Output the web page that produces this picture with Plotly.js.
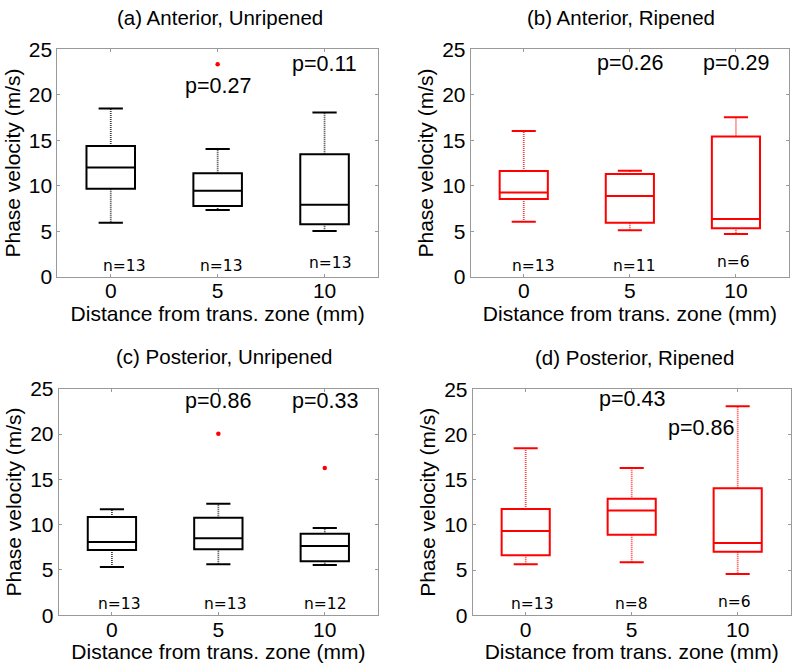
<!DOCTYPE html>
<html>
<head>
<meta charset="utf-8">
<script src="https://cdn.plot.ly/plotly-3.0.1.min.js"></script>
<style>html,body{margin:0;padding:0;background:#fff;}#chart{width:800px;height:672px;}</style>
</head>
<body>
<div id="chart"></div>
<script>
// ---- data ----
const positions = [0, 5, 10];
const xTickLabels = ['0', '5', '10'];
const panelTitles = ['(a) Anterior, Unripened', '(b) Anterior, Ripened', '(c) Posterior, Unripened', '(d) Posterior, Ripened'];
const panelColors = ['#000000', '#ff0000', '#000000', '#ff0000'];

// (a) Anterior, Unripened
const aQ1 = [9.68, 7.77, 5.76];
const aMed = [12.0, 9.46, 7.92];
const aQ3 = [14.37, 11.36, 13.45];
const aLo = [5.94, 7.33, 5.02];
const aHi = [18.5, 14.04, 18.04];
const aOutX = [5];
const aOutY = [23.35];
const aN = ['n=13', 'n=13', 'n=13'];
const aP = ['p=0.27', 'p=0.11'];

// (b) Anterior, Ripened
const bQ1 = [8.54, 5.94, 5.32];
const bMed = [9.27, 8.87, 6.34];
const bQ3 = [11.62, 11.29, 15.40];
const bLo = [6.05, 5.10, 4.69];
const bHi = [16.02, 11.66, 17.52];
const bOutX = [];
const bOutY = [];
const bN = ['n=13', 'n=11', 'n=6'];
const bP = ['p=0.26', 'p=0.29'];

// (c) Posterior, Unripened
const cQ1 = [7.21, 7.28, 5.96];
const cMed = [8.09, 8.49, 7.65];
const cQ3 = [10.85, 10.77, 9.01];
const cLo = [5.33, 5.63, 5.55];
const cHi = [11.69, 12.32, 9.63];
const cOutX = [5, 10];
const cOutY = [20.04, 16.25];
const cN = ['n=13', 'n=13', 'n=12'];
const cP = ['p=0.86', 'p=0.33'];

// (d) Posterior, Ripened
const dQ1 = [6.64, 8.92, 7.04];
const dMed = [9.33, 11.58, 8.0];
const dQ3 = [11.76, 12.9, 14.05];
const dLo = [5.64, 5.86, 4.57];
const dHi = [18.47, 16.3, 23.12];
const dOutX = [];
const dOutY = [];
const dN = ['n=13', 'n=8', 'n=6'];
const dP = ['p=0.43', 'p=0.86'];

// ---- layout / style ----
const FONT = 'Liberation Sans, Arial, sans-serif';
const boxW = 2.27;
const capHalf = boxW * 0.25;

const panels = [
  {q1: aQ1, med: aMed, q3: aQ3, lo: aLo, hi: aHi, ox: aOutX, oy: aOutY, n: aN, p: aP,
   px: [57.3, 378], py: [49.3, 276.7], title: [220, 17],
   nPos: [[0.66, 1.2], [5.2, 1.2], [10.27, 1.47]], pPos: [[5, 20.96], [10, 23.35]]},
  {q1: bQ1, med: bMed, q3: bQ3, lo: bLo, hi: bHi, ox: bOutX, oy: bOutY, n: bN, p: bP,
   px: [470.7, 789], py: [49.3, 276.7], title: [621, 17],
   nPos: [[0.48, 1.2], [5.22, 1.2], [9.9, 1.67]], pPos: [[5, 23.46], [10, 23.46]]},
  {q1: cQ1, med: cMed, q3: cQ3, lo: cLo, hi: cHi, ox: cOutX, oy: cOutY, n: cN, p: cP,
   px: [58.7, 378], py: [388.7, 615.3], title: [224, 356],
   nPos: [[0.37, 1.21], [5.34, 1.21], [10.05, 1.21]], pPos: [[5, 23.64], [10, 23.64]]},
  {q1: dQ1, med: dMed, q3: dQ3, lo: dLo, hi: dHi, ox: dOutX, oy: dOutY, n: dN, p: dP,
   px: [472.7, 790.7], py: [389.3, 615.3], title: [634.7, 357.7],
   nPos: [[0.33, 1.28], [4.97, 1.28], [9.87, 1.47]], pPos: [[5, 23.9], [8.27, 20.75]]}
];

const W = 800, H = 672;
const traces = [];
const annotations = [];
const layout = {
  width: W, height: H,
  margin: {l: 0, r: 0, t: 0, b: 0},
  paper_bgcolor: '#ffffff', plot_bgcolor: '#ffffff',
  showlegend: false,
  font: {family: FONT, color: '#000'},
  annotations: annotations
};

panels.forEach((pn, i) => {
  const k = i === 0 ? '' : String(i + 1);
  const xa = 'x' + k, ya = 'y' + k;
  const col = panelColors[i];

  traces.push({
    type: 'box', x: positions, q1: pn.q1, median: pn.med, q3: pn.q3,
    lowerfence: pn.q1, upperfence: pn.q3, width: boxW, whiskerwidth: 0,
    line: {color: col, width: 2}, fillcolor: 'rgba(0,0,0,0)',
    boxpoints: false, hoverinfo: 'skip', xaxis: xa, yaxis: ya
  });

  const wx = [], wy = [];
  const cx = [], cy = [];
  positions.forEach((p, j) => {
    wx.push(p, p, null, p, p, null);
    wy.push(pn.q3[j], pn.hi[j], null, pn.q1[j], pn.lo[j], null);
    cx.push(p - capHalf, p + capHalf, null, p - capHalf, p + capHalf, null);
    cy.push(pn.hi[j], pn.hi[j], null, pn.lo[j], pn.lo[j], null);
  });
  traces.push({type: 'scatter', mode: 'lines', x: wx, y: wy, xaxis: xa, yaxis: ya,
    line: {color: col, width: 1.8, dash: '1px,1px'}, opacity: 0.75, hoverinfo: 'skip'});
  traces.push({type: 'scatter', mode: 'lines', x: cx, y: cy, xaxis: xa, yaxis: ya,
    line: {color: col, width: 2}, hoverinfo: 'skip'});
  if (pn.ox.length) {
    traces.push({type: 'scatter', mode: 'markers', x: pn.ox, y: pn.oy, xaxis: xa, yaxis: ya,
      marker: {color: '#ff0000', size: 4.5}, hoverinfo: 'skip'});
  }

  const axCommon = {
    showgrid: false, zeroline: false, showline: true, mirror: 'ticks',
    linecolor: '#9a9a9a', linewidth: 1, ticks: 'inside', ticklen: 3, tickcolor: '#9a9a9a',
    tickfont: {family: FONT, size: 21, color: '#000'}, automargin: false, fixedrange: true
  };
  layout['xaxis' + k] = Object.assign({}, axCommon, {
    domain: [pn.px[0] / W, pn.px[1] / W], anchor: ya, range: [-2.5, 12.5],
    tickvals: positions, ticktext: xTickLabels, ticklabelstandoff: -5,
    title: {text: 'Distance from trans. zone (mm)', font: {family: FONT, size: 21, color: '#000'}, standoff: 0}
  });
  layout['yaxis' + k] = Object.assign({}, axCommon, {
    domain: [1 - pn.py[1] / H, 1 - pn.py[0] / H], anchor: xa, range: [0, 25], tickvals: [0, 5, 10, 15, 20, 25],
    title: {text: 'Phase velocity (m/s)', font: {family: FONT, size: 21, color: '#000'}, standoff: 2}
  });

  annotations.push({xref: 'paper', yref: 'paper', x: pn.title[0] / W, y: 1 - pn.title[1] / H,
    xanchor: 'center', yanchor: 'middle', showarrow: false, text: panelTitles[i],
    font: {family: FONT, size: 20.5, color: '#000'}});
  pn.n.forEach((t, j) => annotations.push({xref: xa, yref: ya, x: pn.nPos[j][0], y: pn.nPos[j][1],
    xanchor: 'center', yanchor: 'middle', showarrow: false, text: t,
    font: {family: 'DejaVu Sans, sans-serif', size: 15.5, color: '#000'}}));
  pn.p.forEach((t, j) => annotations.push({xref: xa, yref: ya, x: pn.pPos[j][0], y: pn.pPos[j][1],
    xanchor: 'center', yanchor: 'middle', showarrow: false, text: t,
    font: {family: FONT, size: 21.5, color: '#000'}}));
});

Plotly.newPlot('chart', traces, layout, {staticPlot: true, displayModeBar: false});
</script>
</body>
</html>
